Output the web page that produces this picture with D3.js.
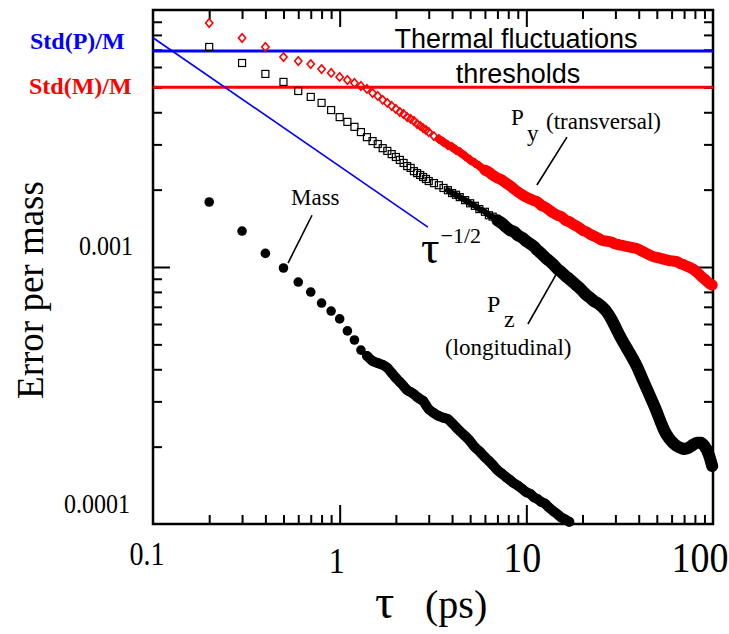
<!DOCTYPE html>
<html>
<head>
<meta charset="utf-8">
<script src="https://cdn.jsdelivr.net/npm/d3@7"></script>
<style>
body { margin: 0; background: #fff; }
svg { display: block; }
text { font-family: "Liberation Serif", "Times New Roman", serif; fill: #000; }
</style>
</head>
<body>
<svg width="729" height="634"></svg>
<script>
// time lag (ps), shared by both momentum series; mass uses the first 62 entries
var tau = [0.2,0.3,0.4,0.5,0.6,0.7,0.8,0.9,1.0,1.1,1.2,1.3,1.4,1.5,1.6,1.7,1.8,1.9,2.0,2.1,2.2,2.3,2.4,2.5,2.6,2.7,2.8,2.9,3.0,
  3.2,3.4,3.6,3.8,4,4.2,4.4,4.7,5,5.3,5.6,6,6.3,6.6,7,7.4,7.8,8.2,8.6,9,9.5,10,10.5,11,11.5,12,12.6,13.2,14,14.7,15.4,16.2,17,
  18,19,20,21,22,23,24,25.5,27,28.5,30,31.5,33,35,37,39,41,43,45,47.5,50,52.5,55,58,61,64,67,70,74,78,82,86,90,95,99];

// Py (transversal) error per mass
var py = [8.90e-3,7.78e-3,7.18e-3,6.56e-3,6.33e-3,6.16e-3,5.89e-3,5.69e-3,5.49e-3,5.34e-3,5.20e-3,5.06e-3,4.93e-3,4.75e-3,4.63e-3,
  4.47e-3,4.35e-3,4.23e-3,4.12e-3,4.01e-3,3.94e-3,3.83e-3,3.77e-3,3.70e-3,3.60e-3,3.54e-3,3.47e-3,3.41e-3,3.35e-3,
  3.23e-3,3.15e-3,3.06e-3,2.98e-3,2.93e-3,2.85e-3,2.80e-3,2.70e-3,2.61e-3,2.54e-3,2.47e-3,2.38e-3,2.34e-3,2.28e-3,2.22e-3,
  2.18e-3,2.12e-3,2.07e-3,2.01e-3,1.96e-3,1.91e-3,1.87e-3,1.84e-3,1.81e-3,1.79e-3,1.74e-3,1.71e-3,1.67e-3,1.62e-3,1.59e-3,
  1.57e-3,1.52e-3,1.50e-3,1.46e-3,1.43e-3,1.39e-3,1.37e-3,1.34e-3,1.32e-3,1.30e-3,1.27e-3,1.26e-3,1.25e-3,1.23e-3,1.22e-3,
  1.21e-3,1.20e-3,1.19e-3,1.18e-3,1.16e-3,1.14e-3,1.12e-3,1.10e-3,1.09e-3,1.08e-3,1.07e-3,1.06e-3,1.055e-3,1.05e-3,1.03e-3,
  1.02e-3,1.00e-3,9.82e-4,9.56e-4,9.23e-4,8.98e-4,8.66e-4,8.51e-4];

// Pz (longitudinal) error per mass
var pz = [7.18e-3,6.22e-3,5.64e-3,5.25e-3,4.84e-3,4.59e-3,4.35e-3,4.08e-3,3.83e-3,3.67e-3,3.51e-3,3.35e-3,3.20e-3,3.09e-3,3.01e-3,
  2.90e-3,2.83e-3,2.75e-3,2.68e-3,2.61e-3,2.54e-3,2.47e-3,2.43e-3,2.36e-3,2.32e-3,2.28e-3,2.24e-3,2.20e-3,2.16e-3,
  2.12e-3,2.08e-3,2.03e-3,1.99e-3,1.94e-3,1.91e-3,1.87e-3,1.82e-3,1.77e-3,1.73e-3,1.68e-3,1.64e-3,1.59e-3,1.57e-3,1.52e-3,
  1.48e-3,1.43e-3,1.39e-3,1.37e-3,1.33e-3,1.30e-3,1.26e-3,1.23e-3,1.20e-3,1.16e-3,1.13e-3,1.09e-3,1.06e-3,1.02e-3,9.82e-4,
  9.56e-4,9.23e-4,8.98e-4,8.66e-4,8.36e-4,8.06e-4,7.78e-4,7.58e-4,7.37e-4,7.24e-4,6.99e-4,6.68e-4,6.28e-4,5.84e-4,5.44e-4,
  5.11e-4,4.75e-4,4.43e-4,4.12e-4,3.80e-4,3.51e-4,3.26e-4,2.98e-4,2.73e-4,2.49e-4,2.30e-4,2.16e-4,2.07e-4,2.01e-4,1.98e-4,
  1.96e-4,1.98e-4,2.03e-4,2.07e-4,2.07e-4,2.01e-4,1.86e-4,1.68e-4];

// mass error
var mass = [1.79e-3,1.38e-3,1.13e-3,9.91e-4,8.74e-4,7.99e-4,7.24e-4,6.74e-4,6.28e-4,5.64e-4,5.20e-4,4.75e-4,4.51e-4,4.31e-4,
  4.23e-4,4.16e-4,4.05e-4,3.87e-4,3.70e-4,3.57e-4,3.44e-4,3.32e-4,3.26e-4,3.20e-4,3.12e-4,3.06e-4,3.01e-4,2.90e-4,2.80e-4,
  2.70e-4,2.63e-4,2.59e-4,2.56e-4,2.47e-4,2.38e-4,2.30e-4,2.20e-4,2.10e-4,1.99e-4,1.92e-4,1.82e-4,1.76e-4,1.70e-4,1.62e-4,
  1.57e-4,1.52e-4,1.48e-4,1.44e-4,1.41e-4,1.37e-4,1.33e-4,1.31e-4,1.27e-4,1.25e-4,1.22e-4,1.20e-4,1.16e-4,1.12e-4,1.09e-4,
  1.06e-4,1.04e-4,1.02e-4];

// thermal thresholds and the tau^-1/2 guide
var stdP = 6.93e-3, stdM = 5.0e-3;
var guideTau = [0.1, 2.97], guideVal = [7.8e-3, 1.43e-3];

var xTickVals = [0.1, 1, 10, 100], xTickText = ["0.1", "1", "10", "100"];
var yTickVals = [1e-4, 1e-3], yTickText = ["0.0001", "0.001"];
var xMinor = [0.2,0.3,0.4,0.5,0.6,0.7,0.8,0.9,2,3,4,5,6,7,8,9,20,30,40,50,60,70,80,90];
var yMinor = [2e-4,3e-4,4e-4,5e-4,6e-4,7e-4,8e-4,9e-4,2e-3,3e-3,4e-3,5e-3,6e-3,7e-3,8e-3,9e-3];

var svg = d3.select("svg");
var x = d3.scaleLog().domain([0.1, 100]).range([153, 713]);
var y = d3.scaleLog().domain([1e-4, 1e-2]).range([524, 10]);

function ticks(axis, tr, vals, size) {
  var g = svg.append("g").attr("transform", tr)
    .call(axis.tickValues(vals).tickSize(size).tickFormat(""));
  g.select(".domain").remove();
  g.selectAll("line").attr("stroke", "#000").attr("stroke-width", 2);
}
ticks(d3.axisBottom(x), "translate(0,524)", xMinor, -9);
ticks(d3.axisBottom(x), "translate(0,524)", [1, 10], -19);
ticks(d3.axisTop(x), "translate(0,10)", xMinor, -9);
ticks(d3.axisTop(x), "translate(0,10)", [1, 10], -17);
ticks(d3.axisLeft(y), "translate(153,0)", yMinor, -9);
ticks(d3.axisLeft(y), "translate(153,0)", [1e-3], -17);
ticks(d3.axisRight(y), "translate(713,0)", yMinor, -9);
ticks(d3.axisRight(y), "translate(713,0)", [1e-3], -17);

svg.append("rect")
  .attr("x", x(0.1)).attr("y", y(1e-2))
  .attr("width", x(100) - x(0.1)).attr("height", y(1e-4) - y(1e-2))
  .attr("fill", "none").attr("stroke", "#000").attr("stroke-width", 2.5);

// thresholds
svg.append("line").attr("x1", x(0.1)).attr("x2", x(100)).attr("y1", y(stdP)).attr("y2", y(stdP))
  .attr("stroke", "#0000ff").attr("stroke-width", 3);
svg.append("line").attr("x1", x(0.1)).attr("x2", x(100)).attr("y1", y(stdM)).attr("y2", y(stdM))
  .attr("stroke", "#ff0000").attr("stroke-width", 3);
svg.append("line").attr("x1", x(guideTau[0])).attr("x2", x(guideTau[1]))
  .attr("y1", y(guideVal[0])).attr("y2", y(guideVal[1]))
  .attr("stroke", "#0000ff").attr("stroke-width", 1.6);

var pyData = tau.map(function(t, i) { return [t, py[i]]; });
var pzData = tau.map(function(t, i) { return [t, pz[i]]; });
var massData = mass.map(function(m, i) { return [tau[i], m]; });

var band = d3.line().x(function(d) { return x(d[0]); }).y(function(d) { return y(d[1]); }).curve(d3.curveMonotoneX);

function drawBand(data, from, color, w) {
  svg.append("path").datum(data.filter(function(d) { return d[0] >= from; }))
    .attr("d", band).attr("fill", "none").attr("stroke", color)
    .attr("stroke-width", w).attr("stroke-linecap", "round").attr("stroke-linejoin", "round");
}

// dense parts read as solid bands
drawBand(pyData, 3.4, "#ff0000", 8);
drawBand(pyData, 6, "#ff0000", 11);
drawBand(pzData, 3.8, "#000", 6);
drawBand(pzData, 7, "#000", 12);

svg.append("g").selectAll("path").data(pyData).join("path")
  .attr("transform", function(d) { return "translate(" + x(d[0]) + "," + y(d[1]) + ")"; })
  .attr("d", "M0,-4.2L3.6,0L0,4.2L-3.6,0Z")
  .attr("fill", "none").attr("stroke", "#ff0000").attr("stroke-width", 1.6);

svg.append("g").selectAll("rect").data(pzData).join("rect")
  .attr("x", function(d) { return x(d[0]) - 3.5; })
  .attr("y", function(d) { return y(d[1]) - 3.5; })
  .attr("width", 7).attr("height", 7)
  .attr("fill", "none").attr("stroke", "#000").attr("stroke-width", 1.2);

drawBand(massData, 1.4, "#000", 10);
svg.append("g").selectAll("circle").data(massData).join("circle")
  .attr("cx", function(d) { return x(d[0]); })
  .attr("cy", function(d) { return y(d[1]); })
  .attr("r", 4.8).attr("fill", "#000");

// tick labels
function label(txt, px, py, size, anchor, sy) {
  return svg.append("text")
    .attr("transform", "translate(" + px + "," + py + ") scale(1," + sy + ")")
    .attr("font-size", size).attr("text-anchor", anchor).text(txt);
}
var xLab = [[-6, 565, 28, 1.2], [-3, 573, 32, 1.1], [-4, 572, 38, 1.1], [-13, 572, 38, 1.1]];
xTickVals.forEach(function(v, i) {
  var o = xLab[i];
  label(xTickText[i], x(v) + o[0], o[1], o[2], "middle", o[3]);
});
var yLab = [[130, -11, 24, 1.15], [133, -12, 24, 1.1]];
yTickVals.forEach(function(v, i) {
  var o = yLab[i];
  label(yTickText[i], o[0], y(v) + o[1], o[2], "end", o[3]);
});

// axis titles
svg.append("text").attr("transform", "translate(43,290) rotate(-90)")
  .attr("font-size", 37).attr("text-anchor", "middle").text("Error per mass");
var xt = svg.append("text").attr("y", 618).attr("font-size", 40);
xt.append("tspan").attr("x", 375).attr("font-size", 48).text("τ");
xt.append("tspan").attr("x", 425).text("(ps)");

// threshold labels
svg.append("text").attr("x", 30).attr("y", 49).attr("font-size", 24).attr("font-weight", "bold")
  .style("fill", "#0000ff").text("Std(P)/M");
svg.append("text").attr("x", 29).attr("y", 94).attr("font-size", 24).attr("font-weight", "bold")
  .style("fill", "#ff0000").text("Std(M)/M");
svg.append("text").attr("x", 516).attr("y", 48).attr("font-size", 27).attr("text-anchor", "middle")
  .style("font-family", "'Liberation Sans', Arial, sans-serif").text("Thermal fluctuations");
svg.append("text").attr("x", 518).attr("y", 83).attr("font-size", 27).attr("text-anchor", "middle")
  .style("font-family", "'Liberation Sans', Arial, sans-serif").text("thresholds");

// tau^-1/2 label as one text with a raised exponent
var gl = svg.append("text").attr("x", 421).attr("y", 263).attr("font-size", 46);
gl.append("tspan").text("τ");
gl.append("tspan").attr("dx", 1).attr("dy", -20).attr("font-size", 22).text("−1/2");

// series annotations with pointer lines (ends given in data space)
var pointers = [
  [[0.711, 1.59e-3], [0.529, 1.036e-3]],
  [[16.5, 3.20e-3], [11.4, 2.085e-3]],
  [[14.6, 9.48e-4], [10.2, 6.00e-4]]
];
pointers.forEach(function(p) {
  svg.append("line").attr("x1", x(p[0][0])).attr("y1", y(p[0][1]))
    .attr("x2", x(p[1][0])).attr("y2", y(p[1][1]))
    .attr("stroke", "#000").attr("stroke-width", 1.6);
});
svg.append("text").attr("x", 291).attr("y", 205).attr("font-size", 23).text("Mass");

var pyl = svg.append("text").attr("y", 125).attr("font-size", 23);
pyl.append("tspan").attr("x", 511).text("P");
pyl.append("tspan").attr("x", 527).attr("y", 141).text("y");
pyl.append("tspan").attr("x", 546).attr("y", 129).text("(transversal)");

var pzl = svg.append("text").attr("y", 312).attr("font-size", 24);
pzl.append("tspan").attr("x", 487).text("P");
pzl.append("tspan").attr("x", 504).attr("y", 327).text("z");
svg.append("text").attr("x", 445).attr("y", 355).attr("font-size", 23).text("(longitudinal)");
</script>
</body>
</html>
